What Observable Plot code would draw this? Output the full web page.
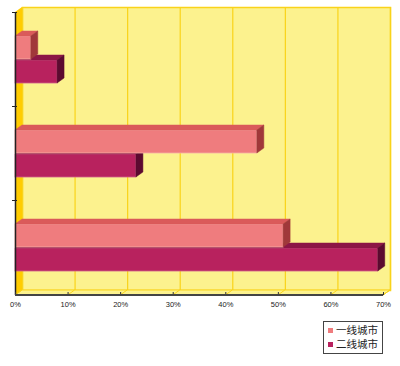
<!DOCTYPE html>
<html><head><meta charset="utf-8">
<script src="https://cdn.jsdelivr.net/npm/d3@7"></script>
<script src="https://cdn.jsdelivr.net/npm/@observablehq/plot@0.6"></script>
<style>
body{margin:0;background:#fff;}
#legend{margin-left:323px;margin-top:5px;width:58px;height:30px;border:1px solid #444;box-sizing:content-box;
  font-family:"Noto Sans CJK SC",sans-serif;font-size:10.5px;color:#222;line-height:14px;padding-top:1px}
#legend div{display:flex;align-items:center;height:14px;padding-left:4px}
#legend span.sw{display:inline-block;width:5px;height:5px;margin-right:3px}
</style>
</head><body>
<div id="chart"></div>
<div id="legend"></div>
<script>
// ---- data ----
const categories = ["组一", "组二", "组三"];
const series = ["一线城市", "二线城市"];
const tier1 = [3, 46, 51];
const tier2 = [8, 23, 69];
const xTicks = [0, 10, 20, 30, 40, 50, 60, 70];

// ---- styles ----
const wall = "#FCF28E", gold = "#F9D31A", leftWall = "#FFCC00";
const colors = {
  "一线城市": {front: "#EF7C7E", top: "#DA5A5A", side: "#A0383A", stroke: "#F7B0A8"},
  "二线城市": {front: "#B8225E", top: "#8C1746", side: "#5C0A30", stroke: "#D0608A"}
};
const DX = 7, DY = -5;

const rows1 = categories.map((c, i) => ({cat: c, s: series[0], v: tier1[i]}));
const rows2 = categories.map((c, i) => ({cat: c, s: series[1], v: tier2[i]}));

const chart = Plot.plot({
  width: 400, height: 316,
  marginTop: 12, marginRight: 17, marginBottom: 21, marginLeft: 15,
  style: {fontFamily: "'Liberation Sans', Arial, sans-serif", fontSize: "7.5px", color: "#222", background: "#fff"},
  x: {domain: [0, 70], ticks: xTicks, tickFormat: d => d + "%", tickSize: 0, tickPadding: 6, label: null},
  y: {domain: categories, paddingInner: 0.5, paddingOuter: 0.25, axis: null},
  marks: [
    Plot.frame({fill: wall, stroke: gold, strokeWidth: 1.5, dx: DX, dy: DY}),
    Plot.ruleX(xTicks, {stroke: gold, strokeWidth: 1.2, dx: DX, dy: DY}),
    Plot.barX(rows2, {x: "v", y: "cat", fill: colors[series[1]].front, stroke: colors[series[1]].stroke, strokeWidth: 0.8, insetTop: 24}),
    Plot.barX(rows1, {x: "v", y: "cat", fill: colors[series[0]].front, stroke: colors[series[0]].stroke, strokeWidth: 0.8, insetBottom: 24}),
    Plot.ruleX([0], {stroke: "#222", strokeWidth: 1.5}),
    Plot.tickX(xTicks, {x: d => d, insetTop: 280, stroke: "#333"})
  ]
});
document.getElementById("chart").appendChild(chart);

// ---- 3D decorations from the plot's own scales ----
const svg = d3.select(chart);
const xs = chart.scale("x"), ys = chart.scale("y");
const x0 = xs.apply(0), x1 = xs.apply(70);
const frameTop = 12, frameBottom = 316 - 21;
const barGroups = svg.selectAll('g[aria-label="bar"]').nodes();
const deco = d3.select(chart.insertBefore(document.createElementNS("http://www.w3.org/2000/svg", "g"), barGroups[0]));
// left wall
deco.append("polygon")
  .attr("points", [[x0, frameTop], [x0 + DX, frameTop + DY], [x0 + DX, frameBottom + DY], [x0, frameBottom]].join(" "))
  .attr("fill", leftWall);
// floor
deco.append("polygon")
  .attr("points", [[x0, frameBottom], [x0 + DX, frameBottom + DY], [x1 + DX, frameBottom + DY], [x1, frameBottom]].join(" "))
  .attr("fill", wall).attr("stroke", gold).attr("stroke-width", 1);
xTicks.forEach(t => {
  const px = xs.apply(t);
  deco.append("line").attr("x1", px).attr("y1", frameBottom).attr("x2", px + DX).attr("y2", frameBottom + DY)
    .attr("stroke", gold).attr("stroke-width", 1);
});
// bottom axis line
const axisG = svg.append("g");
axisG.append("line").attr("x1", x0).attr("x2", x1).attr("y1", frameBottom).attr("y2", frameBottom)
  .attr("stroke", "#444").attr("stroke-width", 1.8);

// bar faces
[[barGroups[0], series[1]], [barGroups[1], series[0]]].forEach(([g, s]) => {
  d3.select(g).selectAll("rect").each(function () {
    const r = this;
    const x = +r.getAttribute("x"), y = +r.getAttribute("y"), w = +r.getAttribute("width"), h = +r.getAttribute("height");
    const p = d3.select(r.parentNode);
    p.append("polygon").attr("points", [[x, y], [x + DX, y + DY], [x + w + DX, y + DY], [x + w, y]].join(" "))
      .attr("fill", colors[s].top).attr("stroke", colors[s].top).attr("stroke-width", 0.5);
    p.append("polygon").attr("points", [[x + w, y], [x + w + DX, y + DY], [x + w + DX, y + h + DY], [x + w, y + h]].join(" "))
      .attr("fill", colors[s].side).attr("stroke", colors[s].side).attr("stroke-width", 0.5);
  });
});

// left axis ticks at category boundaries
const tickG = svg.append("g").attr("stroke", "#222").attr("stroke-width", 1);
categories.forEach(c => {
  const yy = ys.apply(c) - (ys.step - ys.bandwidth) / 2;
  tickG.append("line").attr("x1", x0 - 3).attr("x2", x0 + 2).attr("y1", yy).attr("y2", yy);
});

// legend
const lg = d3.select("#legend");
series.forEach(s => {
  const row = lg.append("div");
  row.append("span").attr("class", "sw").style("background", colors[s].front);
  row.append("span").text(s);
});
</script>
</body></html>
